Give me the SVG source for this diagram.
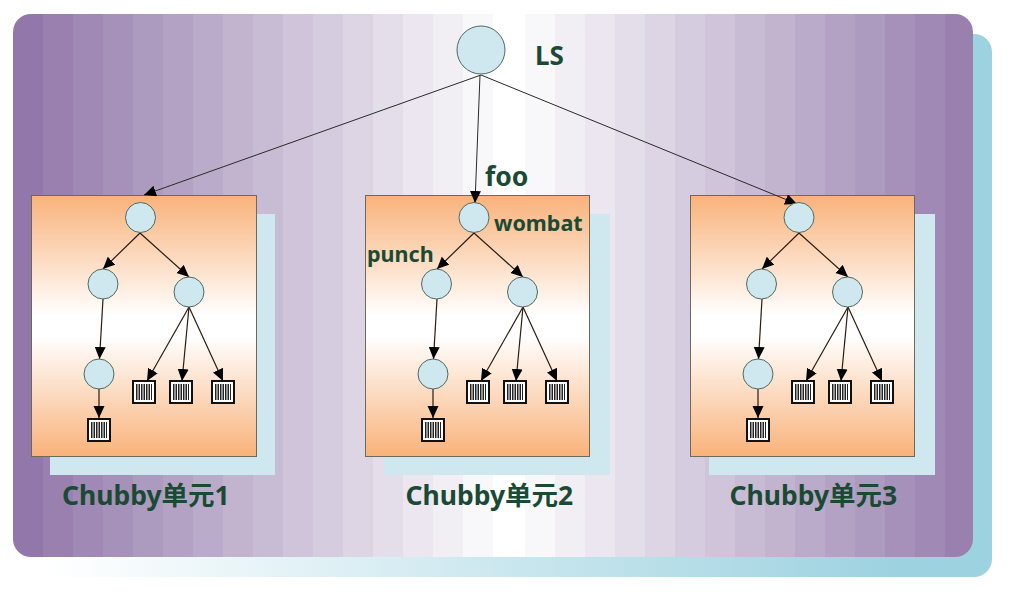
<svg xmlns="http://www.w3.org/2000/svg" xmlns:xlink="http://www.w3.org/1999/xlink" width="1017" height="592" viewBox="0 0 1017 592">
<style>
.c{fill:#cfe8ef;stroke:#4f6a60;stroke-width:1}
.s{fill:#cfe8ef}
.p{fill:url(#orange);stroke:#6e6a58;stroke-width:1}
.l{fill:none;stroke:#2a2a2a;stroke-width:1;marker-end:url(#arrow)}
.m{fill:none;stroke:#2a1c12;stroke-width:1.2;marker-end:url(#arrow)}
.t{font-family:"Noto Sans","Noto Sans CJK SC",sans-serif;font-weight:700;fill:#1a4a33}
.u{font-size:26.500px}
</style>
<defs>
<linearGradient id="back" gradientUnits="userSpaceOnUse" x1="50" y1="0" x2="900" y2="0">
<stop offset="0" stop-color="#fff"/><stop offset="1" stop-color="#9dd2e0"/>
</linearGradient>
<linearGradient id="purple" gradientUnits="userSpaceOnUse" x1="13" y1="0" x2="973" y2="0">
<stop offset="0" stop-color="rgb(146,120,170)"/><stop offset=".03125" stop-color="rgb(146,120,170)"/>
<stop offset=".03125" stop-color="rgb(153,128,175)"/><stop offset=".0625" stop-color="rgb(153,128,175)"/>
<stop offset=".0625" stop-color="rgb(160,137,180)"/><stop offset=".09375" stop-color="rgb(160,137,180)"/>
<stop offset=".09375" stop-color="rgb(166,145,186)"/><stop offset=".125" stop-color="rgb(166,145,186)"/>
<stop offset=".125" stop-color="rgb(173,154,191)"/><stop offset=".15625" stop-color="rgb(173,154,191)"/>
<stop offset=".15625" stop-color="rgb(180,162,196)"/><stop offset=".1875" stop-color="rgb(180,162,196)"/>
<stop offset=".1875" stop-color="rgb(187,171,202)"/><stop offset=".21875" stop-color="rgb(187,171,202)"/>
<stop offset=".21875" stop-color="rgb(194,179,207)"/><stop offset=".25" stop-color="rgb(194,179,207)"/>
<stop offset=".25" stop-color="rgb(200,187,212)"/><stop offset=".28125" stop-color="rgb(200,187,212)"/>
<stop offset=".28125" stop-color="rgb(207,196,218)"/><stop offset=".3125" stop-color="rgb(207,196,218)"/>
<stop offset=".3125" stop-color="rgb(214,204,223)"/><stop offset=".34375" stop-color="rgb(214,204,223)"/>
<stop offset=".34375" stop-color="rgb(221,213,228)"/><stop offset=".375" stop-color="rgb(221,213,228)"/>
<stop offset=".375" stop-color="rgb(228,221,234)"/><stop offset=".40625" stop-color="rgb(228,221,234)"/>
<stop offset=".40625" stop-color="rgb(235,230,239)"/><stop offset=".4375" stop-color="rgb(235,230,239)"/>
<stop offset=".4375" stop-color="rgb(241,238,244)"/><stop offset=".46875" stop-color="rgb(241,238,244)"/>
<stop offset=".46875" stop-color="rgb(248,247,250)"/><stop offset=".5" stop-color="rgb(248,247,250)"/>
<stop offset=".5" stop-color="#fff"/><stop offset=".53333" stop-color="#fff"/>
<stop offset=".53333" stop-color="rgb(248,247,250)"/><stop offset=".56458" stop-color="rgb(248,247,250)"/>
<stop offset=".56458" stop-color="rgb(241,238,244)"/><stop offset=".59583" stop-color="rgb(241,238,244)"/>
<stop offset=".59583" stop-color="rgb(235,230,239)"/><stop offset=".62708" stop-color="rgb(235,230,239)"/>
<stop offset=".62708" stop-color="rgb(228,221,234)"/><stop offset=".65833" stop-color="rgb(228,221,234)"/>
<stop offset=".65833" stop-color="rgb(221,213,228)"/><stop offset=".68958" stop-color="rgb(221,213,228)"/>
<stop offset=".68958" stop-color="rgb(214,204,223)"/><stop offset=".72083" stop-color="rgb(214,204,223)"/>
<stop offset=".72083" stop-color="rgb(207,196,218)"/><stop offset=".75208" stop-color="rgb(207,196,218)"/>
<stop offset=".75208" stop-color="rgb(200,187,212)"/><stop offset=".78333" stop-color="rgb(200,187,212)"/>
<stop offset=".78333" stop-color="rgb(194,179,207)"/><stop offset=".81458" stop-color="rgb(194,179,207)"/>
<stop offset=".81458" stop-color="rgb(187,171,202)"/><stop offset=".84583" stop-color="rgb(187,171,202)"/>
<stop offset=".84583" stop-color="rgb(180,162,196)"/><stop offset=".87708" stop-color="rgb(180,162,196)"/>
<stop offset=".87708" stop-color="rgb(173,154,191)"/><stop offset=".90833" stop-color="rgb(173,154,191)"/>
<stop offset=".90833" stop-color="rgb(166,145,186)"/><stop offset=".93958" stop-color="rgb(166,145,186)"/>
<stop offset=".93958" stop-color="rgb(160,137,180)"/><stop offset=".97083" stop-color="rgb(160,137,180)"/>
<stop offset=".97083" stop-color="rgb(153,128,175)"/><stop offset="1" stop-color="rgb(153,128,175)"/>
</linearGradient>
<linearGradient id="orange" x1="0" y1="0" x2="0" y2="1">
<stop offset="0" stop-color="#f9b27a"/><stop offset=".46" stop-color="#fff"/><stop offset=".54" stop-color="#fff"/><stop offset="1" stop-color="#f9b27a"/>
</linearGradient>
<marker id="arrow" markerUnits="userSpaceOnUse" markerWidth="14" markerHeight="12" refX="12" refY="5.5" orient="auto">
<path d="M0 0L12 5.500L0 11Z" fill="#000"/>
</marker>
<g id="box">
<rect x="1" y="1" width="22" height="22" fill="#fff" stroke="#111" stroke-width="2"/>
<path d="M4 12H20" fill="none" stroke="#222" stroke-width="16" stroke-dasharray="1.500 1"/>
</g>
</defs>

<g id="background">
<rect x="30" y="34" width="962" height="543" rx="18" fill="url(#back)"/>
<rect x="13" y="14" width="960" height="543" rx="18" fill="url(#purple)"/>
</g>

<g id="cell1"><rect class="s" x="50" y="214" width="225" height="261"/><rect class="p" x="31.500" y="195.500" width="225" height="261"/></g>
<g id="cell2"><rect class="s" x="384" y="214" width="226" height="261"/><rect class="p" x="365.500" y="195.500" width="224" height="261"/></g>
<g id="cell3"><rect class="s" x="709" y="214" width="226" height="261"/><rect class="p" x="690.500" y="195.500" width="224" height="261"/></g>

<g id="connectors">
<path class="l" d="M481 75L144 195"/>
<path class="l" d="M480 75L475 203"/>
<path class="l" d="M481 75L797 204"/>

<path class="m" d="M140 233L103 269"/><path class="m" d="M140 233L189 277"/><path class="m" d="M103 299L99.500 359"/><path class="m" d="M189 307L147 381"/><path class="m" d="M189 307L182 381"/><path class="m" d="M189 307L223 381"/><path class="m" d="M99 389V418"/>

<path class="m" d="M474 233L437 269"/><path class="m" d="M474 233L523 277"/><path class="m" d="M437 299L433.500 359"/><path class="m" d="M523 307L481 381"/><path class="m" d="M523 307L516 381"/><path class="m" d="M523 307L557 381"/><path class="m" d="M433 389V418"/>

<path class="m" d="M799 233L762 269"/><path class="m" d="M799 233L848 277"/><path class="m" d="M762 299L758.500 359"/><path class="m" d="M848 307L806 381"/><path class="m" d="M848 307L841 381"/><path class="m" d="M848 307L882 381"/><path class="m" d="M758 389V418"/>
</g>

<g id="ls"><circle class="c" cx="481" cy="50" r="24"/><text class="t" x="535" y="65" font-size="26">LS</text></g>

<g id="c1-n1"><circle class="c" cx="140.500" cy="217.500" r="15"/></g>
<g id="c1-n2"><circle class="c" cx="103" cy="284" r="15"/></g>
<g id="c1-n3"><circle class="c" cx="189" cy="292" r="15"/></g>
<g id="c1-n4"><circle class="c" cx="99" cy="374" r="15"/></g>
<g id="c1-b1"><use xlink:href="#box" href="#box" x="87" y="418"/></g>
<g id="c1-b2"><use xlink:href="#box" href="#box" x="132" y="380"/></g>
<g id="c1-b3"><use xlink:href="#box" href="#box" x="169" y="380"/></g>
<g id="c1-b4"><use xlink:href="#box" href="#box" x="211" y="380"/></g>

<g id="c2-n1"><circle class="c" cx="474" cy="217.500" r="15"/></g>
<g id="c2-n2"><circle class="c" cx="436.500" cy="284" r="15"/></g>
<g id="c2-n3"><circle class="c" cx="522.500" cy="292" r="15"/></g>
<g id="c2-n4"><circle class="c" cx="433" cy="374" r="15"/></g>
<g id="c2-b1"><use xlink:href="#box" href="#box" x="421" y="418"/></g>
<g id="c2-b2"><use xlink:href="#box" href="#box" x="466" y="380"/></g>
<g id="c2-b3"><use xlink:href="#box" href="#box" x="503" y="380"/></g>
<g id="c2-b4"><use xlink:href="#box" href="#box" x="545" y="380"/></g>

<g id="c3-n1"><circle class="c" cx="799" cy="217.500" r="15"/></g>
<g id="c3-n2"><circle class="c" cx="761.500" cy="284" r="15"/></g>
<g id="c3-n3"><circle class="c" cx="847.500" cy="292" r="15"/></g>
<g id="c3-n4"><circle class="c" cx="758" cy="374" r="15"/></g>
<g id="c3-b1"><use xlink:href="#box" href="#box" x="746" y="418"/></g>
<g id="c3-b2"><use xlink:href="#box" href="#box" x="791" y="380"/></g>
<g id="c3-b3"><use xlink:href="#box" href="#box" x="828" y="380"/></g>
<g id="c3-b4"><use xlink:href="#box" href="#box" x="870" y="380"/></g>

<g id="labels">
<text class="t" x="485" y="186" font-size="26.500">foo</text>
<text class="t" x="494" y="231" font-size="21.500">wombat</text>
<text class="t" x="367" y="262" font-size="21.500">punch</text>
<text class="t u" x="62" y="505">Chubby单元1</text>
<text class="t u" x="405.500" y="505">Chubby单元2</text>
<text class="t u" x="729.500" y="505">Chubby单元3</text>
</g>
</svg>
